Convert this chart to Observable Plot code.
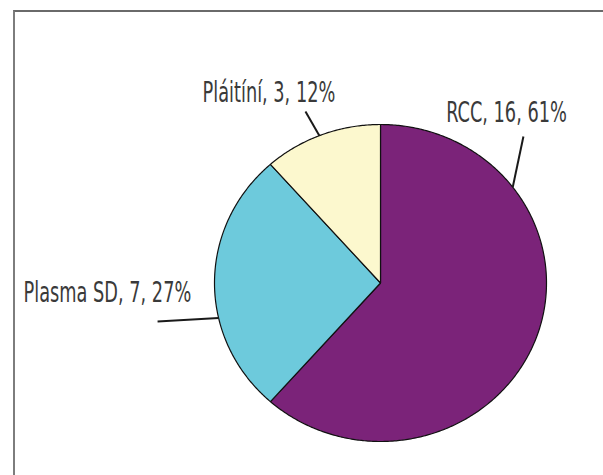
<!DOCTYPE html>
<html>
<head>
<meta charset="utf-8">
<script src="https://cdn.jsdelivr.net/npm/d3@7"></script>
<script src="https://cdn.jsdelivr.net/npm/@observablehq/plot@0.6"></script>
<style>
  html, body { margin: 0; padding: 0; background: #fff; }
  #wrap { position: relative; width: 603px; height: 475px; overflow: hidden; }
  #frame { position: absolute; left: 13px; top: 10px; width: 700px; height: 600px;
           border-left: 2px solid #7d7d7d; border-top: 2px solid #6a6a6a; pointer-events: none; }
  #chart { position: absolute; left: 0; top: 0; }
</style>
</head>
<body>
<div id="wrap"><div id="chart"></div><div id="frame"></div></div>
<script>
// ---- data ----
const categories = ["RCC", "Plasma SD", "Pláitíní"];
const counts = [16, 7, 3];
const percents = ["61%", "27%", "12%"];
const colors = ["#7b2379", "#6dcadc", "#fcf8ce"];

// ---- label layout (unit-ellipse coordinates, style only) ----
const leaderEdgeDeg = [52.8, 257.2, -21.6];
const leaderOuter = [[0.861, 0.924], [-1.343, -0.243], [-0.452, 1.082]];
const labelPos = [[0.759, 1.073], [-1.645, -0.060], [-0.672, 1.199]];

// ---- build slices ----
const arcs = d3.pie().sort(null).value(d => d)(counts);
const slicePts = [];
arcs.forEach((a, i) => {
  const name = categories[i];
  slicePts.push({name, x: 0, y: 0});
  const n = Math.max(2, Math.ceil((a.endAngle - a.startAngle) / 0.01));
  for (let k = 0; k <= n; k++) {
    const t = a.startAngle + (a.endAngle - a.startAngle) * k / n;
    slicePts.push({name, x: Math.sin(t), y: Math.cos(t)});
  }
  slicePts.push({name, x: 0, y: 0});
});

const labels = categories.map((c, i) => ({
  text: `${c}, ${counts[i]}, ${percents[i]}`,
  x: labelPos[i][0], y: labelPos[i][1]
}));
const leaders = categories.map((c, i) => {
  const r = leaderEdgeDeg[i] * Math.PI / 180;
  return {x1: Math.sin(r), y1: Math.cos(r), x2: leaderOuter[i][0], y2: leaderOuter[i][1]};
});

const chart = Plot.plot({
  width: 603,
  height: 475,
  margin: 0,
  x: {domain: [-1, 1], range: [214, 546], axis: null},
  y: {domain: [-1, 1], range: [441, 124], axis: null},
  color: {domain: categories, range: colors},
  marks: [
    Plot.line(slicePts, {x: "x", y: "y", z: "name", fill: "name", stroke: "#111", strokeWidth: 1.2, curve: "linear", strokeLinejoin: "round"}),
    Plot.link(leaders, {x1: "x1", y1: "y1", x2: "x2", y2: "y2", stroke: "#1a1a1a", strokeWidth: 2}),
    Plot.text(labels, {x: "x", y: "y", text: "text", fill: "#3a3a3a", fontSize: 29,
      textAnchor: "middle", lineAnchor: "middle",
      fontFamily: "'Liberation Sans Narrow', 'DejaVu Sans Condensed', 'Liberation Sans', sans-serif"})
  ]
});
document.getElementById("chart").appendChild(chart);

// horizontal condensing of label text (style)
const squeeze = 0.68;
chart.querySelectorAll('g[aria-label="text"] text').forEach(t => {
  const w = t.getComputedTextLength();
  if (w > 0) {
    t.setAttribute("textLength", (w * squeeze).toFixed(1));
    t.setAttribute("lengthAdjust", "spacingAndGlyphs");
  }
});
</script>
</body>
</html>
